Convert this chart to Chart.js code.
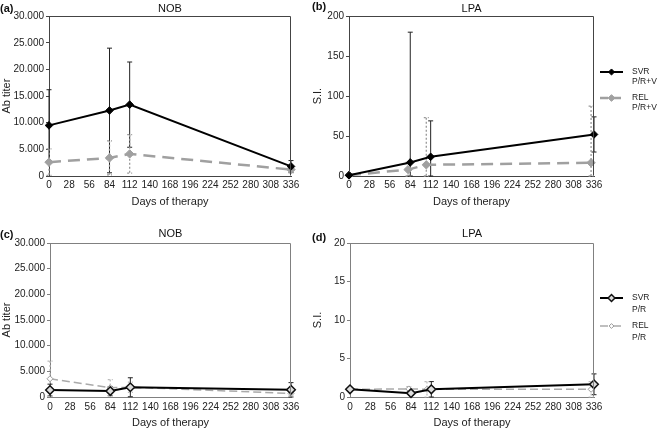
<!DOCTYPE html>
<html>
<head>
<meta charset="utf-8">
<script src="https://cdn.jsdelivr.net/npm/chart.js@4.4.1/dist/chart.umd.min.js"></script>
<style>
  html, body { margin: 0; padding: 0; background: #fff; }
  #wrap { position: relative; width: 658px; height: 430px; overflow: hidden; font-family: "Liberation Sans", Arial, sans-serif; }
  canvas { position: absolute; }
  .tag { position: absolute; font-size: 11px; font-weight: bold; color: #111; line-height: 12px; }
</style>
</head>
<body>
<div id="wrap">
  <canvas id="chartA" width="305" height="215" style="left:0;top:0"></canvas>
  <canvas id="chartB" width="353" height="215" style="left:305px;top:0"></canvas>
  <canvas id="chartC" width="305" height="215" style="left:0;top:215px"></canvas>
  <canvas id="chartD" width="353" height="215" style="left:305px;top:215px"></canvas>
  <div class="tag" style="left:0;top:2px">(a)</div>
  <div class="tag" style="left:312px;top:0">(b)</div>
  <div class="tag" style="left:0;top:228px">(c)</div>
  <div class="tag" style="left:312px;top:231px">(d)</div>
</div>
<script>
// sampling days
const days = [0, 84, 112, 336];
// REL points in the LPA panels are drawn slightly left of the SVR ones
const relLpaDays = [0, 81, 106, 332];

const nobTickLabels = ["0", "5.000", "10.000", "15.000", "20.000", "25.000", "30.000"];

// (a) NOB, P/R+V  (mean and SD)
const svrNobPRV = [9500, 12300, 13400, 1800];
const svrNobPRVsd = [6700, 11700, 8000, 1100];
const relNobPRV = [2600, 3400, 4150, 1200];
const relNobPRVsd = [2500, 3200, 3600, 600];

// (b) LPA, P/R+V
const svrLpaPRV = [1, 17, 24, 52];
const svrLpaPRVsd = [0, 163, 45, 22];
const relLpaPRV = [1, 8, 14, 16.5];
const relLpaPRVsd = [0, 9, 59, 71];

// (c) NOB, P/R
const svrNobPR = [1350, 1150, 1900, 1400];
const svrNobPRsd = [1150, 900, 1850, 1400];
const relNobPR = [3550, 1800, 1900, 700];
const relNobPRsd = [3450, 1600, 1000, 500];

// (d) LPA, P/R
const svrLpaPR = [1.0, 0.5, 1.0, 1.65];
const svrLpaPRsd = [0.1, 0.3, 1.0, 1.35];
const relLpaPR = [1.0, 1.05, 1.0, 1.0];
const relLpaPRsd = [0.1, 0.3, 1.0, 1.0];

Chart.defaults.font.family = "'Liberation Sans', Arial, sans-serif";
Chart.defaults.color = "#222";

const pts = (xs, ys) => xs.map((d, i) => ({ x: d, y: ys[i] }));

// vertical SD bars with small caps
const errorBars = {
  id: "errorBars",
  beforeDatasetsDraw(chart) {
    const ctx = chart.ctx;
    const xs = chart.scales.x, ys = chart.scales.y;
    chart.data.datasets.forEach((ds) => {
      if (!ds.sd) return;
      ctx.save();
      ctx.strokeStyle = ds.errColor;
      ctx.lineWidth = ds.errWidth || 1;
      ctx.setLineDash(ds.errDash || []);
      ds.data.forEach((p, i) => {
        if (!ds.sd[i]) return;
        const px = xs.getPixelForValue(p.x);
        const top = ys.getPixelForValue(Math.min(p.y + ds.sd[i], ys.max));
        const bot = ys.getPixelForValue(Math.max(p.y - ds.sd[i], ys.min));
        ctx.beginPath();
        ctx.moveTo(px, top); ctx.lineTo(px, bot);
        ctx.moveTo(px - 2.5, top); ctx.lineTo(px + 2.5, top);
        ctx.moveTo(px - 2.5, bot); ctx.lineTo(px + 2.5, bot);
        ctx.stroke();
      });
      ctx.restore();
    });
  },
};

// closes the plot box on top and right
const frame = {
  id: "frame",
  afterDraw(chart, args, opts) {
    const a = chart.chartArea, ctx = chart.ctx;
    const l = Math.round(a.left) + 0.5, r = Math.round(a.right) - 0.5;
    const t = Math.round(a.top) + 0.5, b = Math.round(a.bottom) - 0.5;
    ctx.save();
    ctx.strokeStyle = opts.color || "#444";
    ctx.lineWidth = 1;
    ctx.beginPath();
    ctx.moveTo(l, t); ctx.lineTo(r, t); ctx.lineTo(r, b);
    ctx.stroke();
    ctx.restore();
  },
};

// legend drawn at the right with two-line labels
const sideLegend = {
  id: "sideLegend",
  afterDraw(chart, args, opts) {
    if (!opts.show) return;
    const ctx = chart.ctx;
    let y = opts.top;
    chart.data.datasets.forEach((ds) => {
      ctx.save();
      ctx.strokeStyle = ds.borderColor;
      ctx.lineWidth = ds.borderWidth;
      ctx.setLineDash(ds.borderDash ? [8, 5] : []);
      ctx.beginPath();
      ctx.moveTo(opts.x, y); ctx.lineTo(opts.x + 23, y);
      ctx.stroke();
      ctx.setLineDash([]);
      ctx.fillStyle = ds.pointBackgroundColor;
      ctx.strokeStyle = ds.pointBorderColor;
      ctx.lineWidth = ds.pointBorderWidth;
      Chart.helpers.drawPoint(ctx, { pointStyle: ds.pointStyle, radius: ds.pointRadius * 0.8, rotation: 0, borderWidth: ds.pointBorderWidth }, opts.x + 11.5, y);
      ctx.fillStyle = "#222";
      ctx.font = "8.5px 'Liberation Sans', Arial, sans-serif";
      ctx.textBaseline = "middle";
      ds.label.split("\n").forEach((t, k) => ctx.fillText(t, opts.x + 32, y + k * opts.lineGap));
      ctx.restore();
      y += opts.itemGap;
    });
  },
};

Chart.register(errorBars, frame, sideLegend);

function panel(id, cfg) {
  return new Chart(document.getElementById(id), {
    type: "line",
    data: { datasets: cfg.datasets },
    options: {
      responsive: false,
      animation: false,
      layout: { padding: cfg.pad },
      plugins: {
        legend: { display: false },
        tooltip: { enabled: false },
        title: {
          display: true, text: cfg.title, fullSize: false, color: "#111",
          font: { size: 11, weight: "normal", lineHeight: 1.2 }, padding: cfg.titlePad,
        },
        frame: { color: cfg.axisColor },
        sideLegend: cfg.legend || {},
      },
      scales: {
        x: {
          type: "linear", min: 0, max: 336,
          ticks: { stepSize: 28, padding: cfg.xTickPad, autoSkip: false, maxRotation: 0, font: { size: 10 }, color: "#222" },
          grid: { drawOnChartArea: false, drawTicks: false },
          border: { color: cfg.axisColor },
          title: { display: true, text: "Days of therapy", color: "#222", font: { size: 11 }, padding: { top: 0, bottom: cfg.xTitlePad } },
          afterFit: (s) => { s.height = cfg.xHeight; },
        },
        y: {
          min: 0, max: cfg.yMax,
          ticks: { stepSize: cfg.yStep, padding: 2, font: { size: 10 }, color: "#222", callback: cfg.yLabel },
          grid: { drawOnChartArea: false, tickLength: 3, color: cfg.axisColor },
          border: { color: cfg.axisColor },
          title: { display: true, text: cfg.yTitle, color: "#222", font: { size: 11 }, padding: { top: cfg.yTitlePad, bottom: 0 } },
          afterFit: (s) => { s.width = cfg.yWidth; },
        },
      },
    },
  });
}

// style sets
function svrFilled(label, data, sd) {
  return { label, data, sd, clip: false, borderColor: "#000", borderWidth: 2, pointStyle: "rectRot", pointRadius: 3.8,
    pointBackgroundColor: "#000", pointBorderColor: "#000", pointBorderWidth: 1, errColor: "#222", errWidth: 1 };
}
function relFilled(label, data, sd) {
  return { label, data, sd, clip: false, borderColor: "#a0a0a0", borderWidth: 2.5, borderDash: [12, 7], pointStyle: "rectRot", pointRadius: 4.2,
    pointBackgroundColor: "#a0a0a0", pointBorderColor: "#a0a0a0", pointBorderWidth: 1, errColor: "#999", errWidth: 1.3, errDash: [2, 2] };
}
function svrOpen(label, data, sd) {
  return { label, data, sd, clip: false, borderColor: "#000", borderWidth: 2, pointStyle: "rectRot", pointRadius: 4.3,
    pointBackgroundColor: "#ddd", pointBorderColor: "#111", pointBorderWidth: 1.5, errColor: "#222", errWidth: 1 };
}
function relOpen(label, data, sd) {
  return { label, data, sd, clip: false, borderColor: "#aaa", borderWidth: 1.5, borderDash: [8, 4], pointStyle: "rectRot", pointRadius: 3,
    pointBackgroundColor: "#fff", pointBorderColor: "#999", pointBorderWidth: 1, errColor: "#bbb", errWidth: 1.2, errDash: [2, 2] };
}

const nobLabel = (v) => nobTickLabels[Math.round(v / 5000)];

panel("chartA", {
  title: "NOB", yTitle: "Ab titer", yMax: 30000, yStep: 5000, yLabel: nobLabel, axisColor: "#444",
  pad: { left: 0, right: 14, top: 0, bottom: 0 }, titlePad: { top: 2, bottom: 1 },
  yWidth: 49, yTitlePad: 0, xHeight: 39, xTickPad: 3, xTitlePad: 6.4,
  datasets: [
    svrFilled("SVR\nP/R+V", pts(days, svrNobPRV), svrNobPRVsd),
    relFilled("REL\nP/R+V", pts(days, relNobPRV), relNobPRVsd),
  ],
});

panel("chartB", {
  title: "LPA", yTitle: "S.I.", yMax: 200, yStep: 50, axisColor: "#444",
  pad: { left: 6, right: 64, top: 0, bottom: 0 }, titlePad: { top: 2, bottom: 1 },
  yWidth: 38, yTitlePad: 0, xHeight: 39, xTickPad: 3, xTitlePad: 6.4,
  legend: { show: true, x: 295, top: 72, lineGap: 10, itemGap: 26 },
  datasets: [
    svrFilled("SVR\nP/R+V", pts(days, svrLpaPRV), svrLpaPRVsd),
    relFilled("REL\nP/R+V", pts(relLpaDays, relLpaPRV), relLpaPRVsd),
  ],
});

panel("chartC", {
  title: "NOB", yTitle: "Ab titer", yMax: 30000, yStep: 5000, yLabel: nobLabel, axisColor: "#808080",
  pad: { left: 0, right: 14, top: 0, bottom: 0 }, titlePad: { top: 12.4, bottom: 2.4 },
  yWidth: 50, yTitlePad: 0, xHeight: 33, xTickPad: 4, xTitlePad: 0.4,
  datasets: [
    svrOpen("SVR\nP/R", pts(days, svrNobPR), svrNobPRsd),
    relOpen("REL\nP/R", pts(days, relNobPR), relNobPRsd),
  ],
});

panel("chartD", {
  title: "LPA", yTitle: "S.I.", yMax: 20, yStep: 5, axisColor: "#808080",
  pad: { left: 6, right: 64, top: 0, bottom: 0 }, titlePad: { top: 12.4, bottom: 2.4 },
  yWidth: 39, yTitlePad: 0, xHeight: 33, xTickPad: 4, xTitlePad: 0.4,
  legend: { show: true, x: 295, top: 83, lineGap: 12, itemGap: 28 },
  datasets: [
    svrOpen("SVR\nP/R", pts(days, svrLpaPR), svrLpaPRsd),
    relOpen("REL\nP/R", pts(relLpaDays, relLpaPR), relLpaPRsd),
  ],
});
</script>
</body>
</html>
